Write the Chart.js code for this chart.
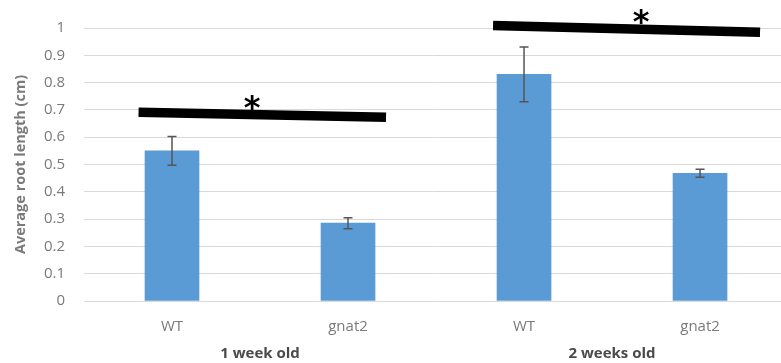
<!DOCTYPE html>
<html>
<head>
<meta charset="utf-8">
<script src="https://cdn.jsdelivr.net/npm/chart.js@4/dist/chart.umd.min.js"></script>
<style>
  html, body { margin: 0; padding: 0; background: #fff; }
  #wrap { width: 781px; height: 363px; }
</style>
</head>
<body>
<div id="wrap"><canvas id="chart"></canvas></div>
<script>
// ---------------------------------------------------------------------
// Data
// ---------------------------------------------------------------------
const groups = ["1 week old", "2 weeks old"];
const groupCenters = [0.5, 2.5];
const genotypes = ["WT", "gnat2", "WT", "gnat2"];
const means = [0.55, 0.285, 0.83, 0.468];
const errors = [0.053, 0.02, 0.10, 0.015];
const yTicks = [0, 0.1, 0.2, 0.3, 0.4, 0.5, 0.6, 0.7, 0.8, 0.9, 1];

// significance bars, in axis units: [x0, y0, x1, y1]
const sigBars = [
  [-0.19, 0.691, 1.216, 0.673],
  [1.824, 1.009, 3.341, 0.984]
];
// asterisk positions, in axis units: [x, y]
const sigStars = [
  [0.455, 0.726],
  [2.665, 1.041]
];

const GRAY = "#7a7a7a";
const FONT = "'Open Sans', sans-serif";

// ---------------------------------------------------------------------
// Overlay: error bars, significance bars and group labels
// ---------------------------------------------------------------------
const overlay = {
  id: "overlay",
  afterDatasetsDraw(chart) {
    const { ctx, scales: { x, y }, chartArea } = chart;
    ctx.save();

    // error bars
    ctx.strokeStyle = "#555";
    ctx.lineWidth = 1.5;
    means.forEach((m, i) => {
      const px = x.getPixelForValue(i);
      const top = y.getPixelForValue(m + errors[i]);
      const bot = y.getPixelForValue(m - errors[i]);
      ctx.beginPath();
      ctx.moveTo(px, top); ctx.lineTo(px, bot);
      ctx.moveTo(px - 4.5, top); ctx.lineTo(px + 4.5, top);
      ctx.moveTo(px - 4.5, bot); ctx.lineTo(px + 4.5, bot);
      ctx.stroke();
    });

    // significance bars
    ctx.strokeStyle = "#000";
    ctx.lineWidth = 9.5;
    ctx.lineCap = "butt";
    sigBars.forEach(([x0, y0, x1, y1]) => {
      ctx.beginPath();
      ctx.moveTo(x.getPixelForValue(x0), y.getPixelForValue(y0));
      ctx.lineTo(x.getPixelForValue(x1), y.getPixelForValue(y1));
      ctx.stroke();
    });

    // asterisks, centred on their glyph box
    ctx.fillStyle = "#000";
    ctx.font = `bold 32px 'DejaVu Sans', sans-serif`;
    ctx.textAlign = "center";
    ctx.textBaseline = "alphabetic";
    const m = ctx.measureText("*");
    const off = (m.actualBoundingBoxAscent - m.actualBoundingBoxDescent) / 2;
    sigStars.forEach(([sx, sy]) => {
      ctx.fillText("*", x.getPixelForValue(sx), y.getPixelForValue(sy) + off);
    });

    // group labels under the genotype labels
    ctx.fillStyle = "#4a4a4a";
    ctx.font = `bold 15px ${FONT}`;
    ctx.textBaseline = "middle";
    groups.forEach((g, i) => {
      ctx.fillText(g, x.getPixelForValue(groupCenters[i]), chartArea.bottom + 53);
    });

    ctx.restore();
  }
};

// ---------------------------------------------------------------------
// Chart
// ---------------------------------------------------------------------
new Chart(document.getElementById("chart"), {
  type: "bar",
  data: {
    datasets: [{
      data: means.map((v, i) => ({ x: i, y: v })),
      backgroundColor: "#5b9bd5",
      borderWidth: 0,
      barThickness: 54
    }]
  },
  options: {
    responsive: true,
    maintainAspectRatio: false,
    animation: false,
    layout: { padding: { top: 28, right: 0, bottom: 18, left: 0 } },
    plugins: { legend: { display: false }, tooltip: { enabled: false } },
    scales: {
      x: {
        type: "linear",
        offset: false,
        min: -0.5,
        max: 3.46,
        afterBuildTicks: (s) => { s.ticks = genotypes.map((_, i) => ({ value: i })); },
        ticks: {
          callback: (v) => genotypes[v],
          color: GRAY,
          font: { family: FONT, size: 15 },
          padding: 9,
          maxRotation: 0,
          autoSkip: false
        },
        grid: { display: false },
        border: { display: false }
      },
      y: {
        min: 0,
        max: 1,
        afterBuildTicks: (s) => { s.ticks = yTicks.map((v) => ({ value: v })); },
        afterFit: (s) => { s.width = 84; },
        ticks: {
          callback: (v) => String(v),
          color: GRAY,
          font: { family: FONT, size: 15 },
          padding: 19
        },
        grid: { color: "#d9d9d9", lineWidth: 1, drawTicks: false },
        border: { display: false },
        title: {
          display: true,
          text: "Average root length (cm)",
          color: GRAY,
          font: { family: FONT, size: 14.5, weight: "bold" },
          padding: { top: 12, bottom: 0 }
        }
      }
    }
  },
  plugins: [overlay]
});
</script>
</body>
</html>
